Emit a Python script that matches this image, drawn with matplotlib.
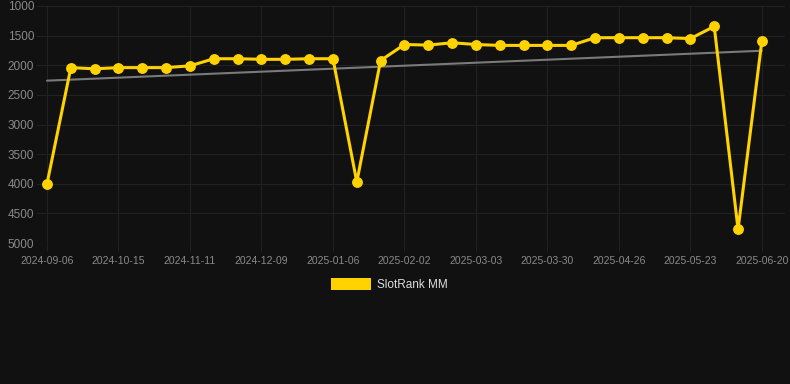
import matplotlib
matplotlib.use("Agg")
import matplotlib.pyplot as plt
from matplotlib.patches import Rectangle

plt.rcParams['font.family'] = ['Liberation Sans', 'DejaVu Sans']

tick_labels = ["2024-09-06", "2024-10-15", "2024-11-11", "2024-12-09", "2025-01-06",
               "2025-02-02", "2025-03-03", "2025-03-30", "2025-04-26", "2025-05-23",
               "2025-06-20"]
rank_values = [4000, 2040, 2060, 2040, 2040, 2040, 2010, 1890, 1890, 1900, 1900,
               1890, 1890, 3970, 1920, 1650, 1660, 1620, 1650, 1665, 1665, 1665,
               1665, 1535, 1535, 1535, 1535, 1550, 1345, 4770, 1585]
trend_values = [2260, 1755]
series_name = "SlotRank MM"
y_ticks = [1000, 1500, 2000, 2500, 3000, 3500, 4000, 4500, 5000]

bg = "#111111"
gold = "#FFD200"
grid_c = "#222222"

fig = plt.figure(figsize=(7.9, 3.84), dpi=100, facecolor=bg)
ax = fig.add_axes([37/790, 1 - 243/384, (785-37)/790, (243-6)/384], facecolor=bg)

xs = list(range(len(rank_values)))
ax.plot([xs[0], xs[-1]], trend_values, color="#7a7a7a", lw=1.5, zorder=2,
        solid_capstyle="round")
ax.plot(xs, rank_values, color=gold, lw=2.2, marker="o", markersize=6.8,
        markerfacecolor=gold, markeredgecolor=gold, zorder=3)

ax.set_ylim(5000, 1000)
ax.set_xlim(-0.42, 30.97)
ax.set_yticks(y_ticks)
ax.set_yticklabels([str(v) for v in y_ticks])
ax.set_xticks(xs[::3])
ax.set_xticklabels(tick_labels)

ax.grid(True, color=grid_c, lw=0.8)
ax.set_axisbelow(True)
for s in ax.spines.values():
    s.set_visible(False)
ax.tick_params(axis="y", length=0, pad=2, labelsize=8.5, labelcolor="#8a8a8a")
ax.tick_params(axis="x", length=6, width=0.8, color=grid_c, pad=3,
               labelsize=7.5, labelcolor="#8a8a8a")

# legend
fig.patches.append(Rectangle((331/790, 1 - 290/384), 40/790, 12/384,
                             transform=fig.transFigure, facecolor=gold,
                             edgecolor="none"))
fig.text(377/790, 1 - 284.5/384, series_name, color="#dddddd", fontsize=8.5,
         va="center", ha="left")

fig.savefig("out.png", dpi=100, facecolor=bg)
